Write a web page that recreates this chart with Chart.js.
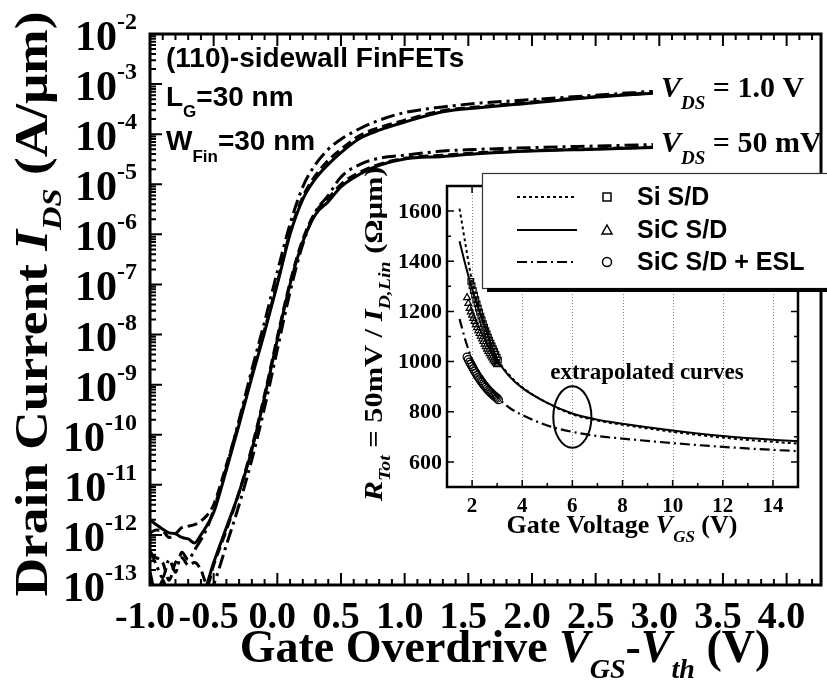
<!DOCTYPE html>
<html>
<head>
<meta charset="utf-8">
<script src="https://cdn.jsdelivr.net/npm/chart.js@4.4.1/dist/chart.umd.min.js"></script>
<style>
html, body { margin: 0; padding: 0; background: #fff; }
#wrap { position: relative; width: 827px; height: 686px; overflow: hidden; }
#main { position: absolute; left: 0; top: 0; }
#inset { position: absolute; left: 355px; top: 165px; }
</style>
</head>
<body>
<div id="wrap">
  <canvas id="main" width="827" height="686"></canvas>
  <canvas id="inset" width="472" height="390"></canvas>
</div>
<script>
// ---- main chart: Id-Vov data ----
const VOV = [-1.0, -0.95, -0.9, -0.85, -0.8, -0.75, -0.7, -0.65, -0.6, -0.55, -0.5, -0.4, -0.3, -0.2, -0.1,
             0.0, 0.1, 0.2, 0.3, 0.4, 0.5, 0.65, 0.8, 1.0, 1.3, 1.6, 2.0, 2.5, 2.95];

// VDS = 1.0 V
const ID_SI_1V   = [1.1e-12, 1.25e-12, 1.2e-12, 8.9e-13, 1.05e-12, 1.4e-12, 1.5e-12, 1.6e-12, 1.9e-12, 2.5e-12, 4.0e-12,
                    2.5e-11, 1.8e-10, 1.6e-9, 1.25e-8, 1.1e-7, 1.1e-6, 5.6e-6, 1.5e-5, 3.0e-5, 5.0e-5, 9.5e-5, 1.35e-4,
                    1.9e-4, 2.95e-4, 3.55e-4, 4.4e-4, 5.6e-4, 6.8e-4];
const ID_SIC_1V  = [2.0e-12, 1.6e-12, 1.3e-12, 1.1e-12, 1.05e-12, 8.9e-13, 8.3e-13, 6.9e-13, 1.0e-12, 1.6e-12, 2.8e-12,
                    2.0e-11, 1.6e-10, 1.4e-9, 1.1e-8, 1.0e-7, 1.0e-6, 5.0e-6, 1.3e-5, 2.5e-5, 4.3e-5, 8.3e-5, 1.2e-4,
                    1.74e-4, 2.8e-4, 3.4e-4, 4.2e-4, 5.5e-4, 6.6e-4];
const ID_ESL_1V  = [5.0e-13, 2.5e-13, 1.4e-13, 3.2e-13, 1.8e-13, 4.5e-13, 3.2e-13, 5.0e-13, 8.0e-13, 1.4e-12, 3.2e-12,
                    2.2e-11, 2.0e-10, 2.0e-9, 1.8e-8, 1.8e-7, 1.6e-6, 8.9e-6, 2.5e-5, 5.0e-5, 7.9e-5, 1.3e-4, 1.9e-4,
                    2.7e-4, 3.5e-4, 4.2e-4, 4.9e-4, 6.0e-4, 7.2e-4];
// VDS = 50 mV
const ID_SI_50   = [4.0e-13, 3.5e-13, 2.8e-13, 1.25e-13, 2.8e-13, 3.5e-13, 2.5e-13, 2.8e-13, 2.0e-13, 1.0e-13, 2.5e-13,
                    1.25e-12, 7.1e-12, 5.6e-11, 6.3e-10, 8.9e-9, 1.1e-7, 7.9e-7, 2.8e-6, 5.2e-6, 1.0e-5, 1.75e-5, 2.5e-5,
                    3.3e-5, 3.8e-5, 4.3e-5, 4.7e-5, 5.1e-5, 5.5e-5];
const ID_SIC_50  = [1.8e-13, 6.3e-14, 1.25e-13, 5.0e-14, 8.0e-14, 4.0e-14, 3.2e-14, 4.0e-14, 5.0e-14, 1.1e-13, 2.8e-13,
                    1.4e-12, 7.1e-12, 5.0e-11, 5.6e-10, 7.9e-9, 1.0e-7, 7.1e-7, 2.5e-6, 4.5e-6, 8.9e-6, 1.6e-5, 2.4e-5,
                    3.2e-5, 3.6e-5, 4.1e-5, 4.6e-5, 5.0e-5, 5.4e-5];
const ID_ESL_50  = [6.3e-14, 8.9e-14, 4.0e-14, 1.0e-13, 5.0e-14, 2.5e-14, 4.0e-14, 2.5e-14, 3.2e-14, 5.0e-14, 1.0e-13,
                    6.3e-13, 4.0e-12, 3.2e-11, 3.5e-10, 5.0e-9, 7.1e-8, 6.3e-7, 2.8e-6, 6.0e-6, 1.4e-5, 2.5e-5, 3.3e-5,
                    3.8e-5, 4.6e-5, 5.0e-5, 5.4e-5, 5.8e-5, 6.2e-5];

const MAIN_X_TICKS = [-1.0, -0.5, 0.0, 0.5, 1.0, 1.5, 2.0, 2.5, 3.0, 3.5, 4.0];
const MAIN_Y_EXP = [-2, -3, -4, -5, -6, -7, -8, -9, -10, -11, -12, -13];

// ---- inset: Rtot vs VGS ----
const VG = [1.5, 1.75, 2, 2.5, 3, 3.5, 4, 5, 6, 7, 8, 10, 12, 14, 15];
const R_SI_FIT  = [1610, 1460, 1320, 1150, 1015, 945, 898, 835, 790, 765, 748, 720, 697, 680, 673];
const R_SIC_FIT = [1480, 1380, 1290, 1140, 1010, 940, 895, 835, 793, 768, 752, 725, 703, 688, 683];
const R_ESL_FIT = [1170, 1080, 1010, 925, 860, 815, 787, 745, 720, 703, 693, 675, 660, 648, 643];

const VG_SI_MEAS  = [1.95, 2.0, 2.05, 2.1, 2.15, 2.2, 2.25, 2.3, 2.35, 2.4, 2.45, 2.5, 2.55, 2.6, 2.65, 2.7,
                     2.75, 2.8, 2.85, 2.9, 2.95, 3.0, 3.05];
const R_SI_MEAS   = [1320, 1302, 1283, 1265, 1247, 1230, 1213, 1197, 1181, 1166, 1151, 1137, 1123, 1110, 1097, 1085,
                     1073, 1062, 1051, 1040, 1029, 1018, 1006];
const VG_SIC_MEAS = [1.8, 1.85, 1.9, 1.95, 2.0, 2.05, 2.1, 2.15, 2.2, 2.25, 2.3, 2.35, 2.4, 2.45, 2.5, 2.55,
                     2.6, 2.65, 2.7, 2.75, 2.8, 2.85, 2.9, 2.95, 3.0];
const R_SIC_MEAS  = [1255, 1232, 1212, 1198, 1185, 1172, 1160, 1147, 1135, 1123, 1112, 1101, 1090, 1080, 1070, 1060,
                     1050, 1041, 1032, 1023, 1015, 1007, 1000, 994, 988];
const VG_ESL_MEAS = [1.8, 1.85, 1.9, 1.95, 2.0, 2.05, 2.1, 2.15, 2.2, 2.25, 2.3, 2.35, 2.4, 2.45, 2.5, 2.55,
                     2.6, 2.65, 2.7, 2.75, 2.8, 2.85, 2.9, 2.95, 3.0, 3.05];
const R_ESL_MEAS  = [1018, 1008, 998, 989, 980, 971, 962, 954, 946, 938, 931, 924, 917, 910, 904, 898,
                     892, 886, 881, 876, 871, 866, 862, 858, 854, 848];

const INSET_X_TICKS = [2, 4, 6, 8, 10, 12, 14];
const INSET_Y_TICKS = [600, 800, 1000, 1200, 1400, 1600];
const LEGEND_LABELS = ['Si S/D', 'SiC S/D', 'SiC S/D + ESL'];

const SERIF = "'Liberation Serif', 'Times New Roman', serif";
const SANS = "'Liberation Sans', Arial, sans-serif";

const pts = (xs, ys) => xs.map((x, i) => ({ x: x, y: ys[i] }));

// 色々な書式のテキストを並べて描く
function drawParts(ctx, parts, x, y, align) {
    let w = 0;
    parts.forEach(p => { ctx.font = p.f; w += ctx.measureText(p.t).width; });
    let cx = align === 'center' ? x - w / 2 : (align === 'right' ? x - w : x);
    ctx.textAlign = 'left';
    ctx.textBaseline = 'alphabetic';
    parts.forEach(p => {
        ctx.font = p.f;
        ctx.fillText(p.t, cx, y + (p.dy || 0));
        cx += ctx.measureText(p.t).width;
    });
}

// ---- main chart decorations ----
const mainDecor = {
    id: 'mainDecor',
    afterDraw(chart) {
        const ctx = chart.ctx, a = chart.chartArea;
        const xs = chart.scales.x, ys = chart.scales.y;
        ctx.save();
        ctx.strokeStyle = '#000';
        ctx.fillStyle = '#000';

        // ticks (inside)
        ctx.lineWidth = 2;
        ctx.beginPath();
        for (let i = -10; i <= 42; i++) {
            const px = xs.getPixelForValue(i / 10);
            const len = i % 5 === 0 ? 12 : 6;
            ctx.moveTo(px, a.bottom); ctx.lineTo(px, a.bottom - len);
            ctx.moveTo(px, a.top); ctx.lineTo(px, a.top + len);
        }
        for (let e = -13; e <= -3; e++) {
            for (let m = 1; m <= 9; m++) {
                const py = ys.getPixelForValue(m * Math.pow(10, e));
                const len = m === 1 ? 12 : 6;
                ctx.moveTo(a.left, py); ctx.lineTo(a.left + len, py);
            }
        }
        ctx.stroke();

        ctx.lineWidth = 3;
        ctx.strokeRect(a.left, a.top, a.right - a.left, a.bottom - a.top);

        // y tick labels 10^n
        ctx.textBaseline = 'alphabetic';
        ctx.textAlign = 'left';
        MAIN_Y_EXP.forEach(e => {
            const py = ys.getPixelForValue(Math.pow(10, e));
            ctx.font = `bold 24px ${SERIF}`;
            const sup = String(e);
            const ws = ctx.measureText(sup).width;
            ctx.fillText(sup, 137 - ws, py - 5);
            ctx.font = `bold 42px ${SERIF}`;
            const wt = ctx.measureText('10').width;
            ctx.fillText('10', 137 - ws - wt, py + 16);
        });

        // x tick labels
        ctx.font = `bold 38px ${SERIF}`;
        ctx.textAlign = 'center';
        MAIN_X_TICKS.forEach(v => ctx.fillText(v.toFixed(1), xs.getPixelForValue(v) - 5, 628));

        // axis titles
        const B46 = `bold 46px ${SERIF}`, I46 = `italic bold 46px ${SERIF}`, I28 = `italic bold 28px ${SERIF}`;
        drawParts(ctx, [
            { t: 'Gate Overdrive ', f: B46 }, { t: 'V', f: I46 }, { t: 'GS', f: I28, dy: 16 },
            { t: '-', f: B46 }, { t: 'V', f: I46 }, { t: 'th', f: I28, dy: 16 }, { t: ' (V)', f: B46 }
        ], 505, 662, 'center');

        ctx.save();
        ctx.translate(47, 304);
        ctx.rotate(-Math.PI / 2);
        ctx.scale(1.16, 1);
        drawParts(ctx, [
            { t: 'Drain Current ', f: B46 }, { t: 'I', f: I46 }, { t: 'DS', f: I28, dy: 14 }, { t: ' (A/μm)', f: B46 }
        ], 0, 0, 'center');
        ctx.restore();

        // annotations
        const S28 = `bold 28px ${SANS}`, S17 = `bold 17px ${SANS}`;
        drawParts(ctx, [{ t: '(110)-sidewall FinFETs', f: S28 }], 166, 67, 'left');
        drawParts(ctx, [{ t: 'L', f: S28 }, { t: 'G', f: S17, dy: 11 }, { t: '=30 nm', f: S28 }], 166, 106, 'left');
        drawParts(ctx, [{ t: 'W', f: S28 }, { t: 'Fin', f: S17, dy: 12 }, { t: '=30 nm', f: S28 }], 166, 150, 'left');

        const B30 = `bold 30px ${SERIF}`, I30 = `italic bold 30px ${SERIF}`, I19 = `italic bold 19px ${SERIF}`;
        drawParts(ctx, [{ t: 'V', f: I30 }, { t: 'DS', f: I19, dy: 12 }, { t: ' = 1.0 V', f: B30 }], 661, 97, 'left');
        drawParts(ctx, [{ t: 'V', f: I30 }, { t: 'DS', f: I19, dy: 12 }, { t: ' = 50 mV', f: B30 }], 661, 152, 'left');
        ctx.restore();
    }
};

const lineStyle = (dash) => ({
    borderColor: '#000', borderWidth: 3, borderDash: dash, pointRadius: 0,
    cubicInterpolationMode: 'monotone', fill: false, clip: 1
});

new Chart(document.getElementById('main'), {
    type: 'line',
    data: {
        datasets: [
            { data: pts(VOV, ID_SI_1V), ...lineStyle([10, 5]) },
            { data: pts(VOV, ID_SIC_1V), ...lineStyle([]) },
            { data: pts(VOV, ID_ESL_1V), ...lineStyle([14, 5, 3, 5]) },
            { data: pts(VOV, ID_SI_50), ...lineStyle([10, 5]) },
            { data: pts(VOV, ID_SIC_50), ...lineStyle([]) },
            { data: pts(VOV, ID_ESL_50), ...lineStyle([14, 5, 3, 5]) }
        ]
    },
    options: {
        responsive: false,
        animation: false,
        devicePixelRatio: 1,
        events: [],
        layout: { padding: { left: 0, right: 6, top: 34, bottom: 0 } },
        plugins: { legend: { display: false }, tooltip: { enabled: false } },
        scales: {
            x: {
                type: 'linear', min: -1.0, max: 4.27,
                ticks: { display: false }, grid: { display: false }, border: { display: false },
                afterFit: s => { s.height = 101; }
            },
            y: {
                type: 'logarithmic', min: 1e-13, max: 1e-2,
                ticks: { display: false }, grid: { display: false }, border: { display: false },
                afterFit: s => { s.width = 150; }
            }
        }
    },
    plugins: [mainDecor]
});

// ---- inset ----
const OX = 355, OY = 165;   // inset canvas offset
const ELLIPSE_X = 6, ELLIPSE_R = 779, ELLIPSE_DX = 0.76, ELLIPSE_DR = 123;

const insetDecor = {
    id: 'insetDecor',
    beforeDatasetsDraw(chart) {
        const ctx = chart.ctx, a = chart.chartArea, xs = chart.scales.x;
        ctx.save();
        ctx.strokeStyle = '#666';
        ctx.lineWidth = 0.8;
        ctx.setLineDash([1, 2]);
        ctx.beginPath();
        INSET_X_TICKS.forEach(v => {
            const px = Math.round(xs.getPixelForValue(v)) + 0.5;
            ctx.moveTo(px, a.bottom); ctx.lineTo(px, a.top);
        });
        ctx.stroke();
        ctx.restore();
    },
    afterDraw(chart) {
        const ctx = chart.ctx, a = chart.chartArea;
        const xs = chart.scales.x, ys = chart.scales.y;
        ctx.save();
        ctx.strokeStyle = '#000';
        ctx.fillStyle = '#000';

        // ticks
        ctx.lineWidth = 1.5;
        ctx.beginPath();
        for (let v = 600; v <= 1700; v += 100) {
            const py = ys.getPixelForValue(v);
            const len = v % 200 === 0 ? 7 : 4;
            ctx.moveTo(a.left, py); ctx.lineTo(a.left + len, py);
            ctx.moveTo(a.right, py); ctx.lineTo(a.right - len, py);
        }
        for (let v = 1; v <= 15; v++) {
            const px = xs.getPixelForValue(v);
            const len = v % 2 === 0 ? 7 : 4;
            ctx.moveTo(px, a.bottom); ctx.lineTo(px, a.bottom - len);
            ctx.moveTo(px, a.top); ctx.lineTo(px, a.top + len);
        }
        ctx.stroke();
        ctx.lineWidth = 2.5;
        ctx.strokeRect(a.left, a.top, a.right - a.left, a.bottom - a.top);

        // tick labels
        ctx.font = `bold 22px ${SERIF}`;
        ctx.textAlign = 'right';
        ctx.textBaseline = 'middle';
        INSET_Y_TICKS.forEach(v => ctx.fillText(String(v), 442 - OX, ys.getPixelForValue(v) + 1));
        ctx.textAlign = 'center';
        ctx.textBaseline = 'alphabetic';
        ctx.font = `bold 21px ${SERIF}`;
        INSET_X_TICKS.forEach(v => ctx.fillText(String(v), xs.getPixelForValue(v), 512 - OY));

        // titles
        const B26 = `bold 26px ${SERIF}`, I26 = `italic bold 26px ${SERIF}`, I17 = `italic bold 17px ${SERIF}`;
        drawParts(ctx, [{ t: 'Gate Voltage ', f: B26 }, { t: 'V', f: I26 }, { t: 'GS', f: I17, dy: 9 }, { t: ' (V)', f: B26 }],
            622 - OX, 533 - OY, 'center');

        ctx.save();
        ctx.translate(382 - OX, 334 - OY);
        ctx.rotate(-Math.PI / 2);
        ctx.scale(1.17, 1);
        drawParts(ctx, [
            { t: 'R', f: I26 }, { t: 'Tot', f: I17, dy: 8 }, { t: ' = 50mV / ', f: B26 },
            { t: 'I', f: I26 }, { t: 'D,Lin', f: I17, dy: 8 }, { t: ' (Ωμm)', f: B26 }
        ], 0, 0, 'center');
        ctx.restore();

        // extrapolated curves + ellipse
        ctx.font = `bold 23px ${SERIF}`;
        ctx.textAlign = 'center';
        ctx.fillText('extrapolated curves', 647 - OX, 379 - OY);
        const cx = xs.getPixelForValue(ELLIPSE_X), cy = ys.getPixelForValue(ELLIPSE_R);
        const rx = Math.abs(xs.getPixelForValue(ELLIPSE_X + ELLIPSE_DX) - cx);
        const ry = Math.abs(ys.getPixelForValue(ELLIPSE_R + ELLIPSE_DR) - cy);
        ctx.lineWidth = 2;
        ctx.beginPath();
        ctx.ellipse(cx, cy, rx, ry, 0, 0, Math.PI * 2);
        ctx.stroke();

        // legend box
        const bx = 482 - OX, by = 173 - OY, bw = chart.width - bx + 5, bh = 115;
        ctx.fillStyle = '#fff';
        ctx.fillRect(bx, by, bw, bh);
        ctx.strokeStyle = '#333';
        ctx.lineWidth = 1.2;
        ctx.strokeRect(bx + 0.5, by + 0.5, bw, bh);
        ctx.fillStyle = '#000';
        ctx.fillRect(bx + 5, by + bh, bw, 4);

        const rows = [197, 230, 262];
        const ds = chart.data.datasets;
        rows.forEach((ry0, i) => {
            const y = ry0 - OY;
            const line = ds[i], mk = ds[i + 3];
            ctx.strokeStyle = '#000';
            ctx.lineWidth = line.borderWidth;
            ctx.setLineDash(line.borderDash);
            ctx.beginPath();
            ctx.moveTo(517 - OX, y); ctx.lineTo(577 - OX, y);
            ctx.stroke();
            ctx.setLineDash([]);
            ctx.lineWidth = 1.5;
            const mx = 607 - OX;
            ctx.beginPath();
            if (mk.pointStyle === 'rect') ctx.rect(mx - 4, y - 4, 8, 8);
            else if (mk.pointStyle === 'triangle') { ctx.moveTo(mx, y - 5); ctx.lineTo(mx + 5, y + 4); ctx.lineTo(mx - 5, y + 4); ctx.closePath(); }
            else ctx.arc(mx, y, 4.5, 0, Math.PI * 2);
            ctx.stroke();
            ctx.font = `bold 25px ${SANS}`;
            ctx.textAlign = 'left';
            ctx.textBaseline = 'middle';
            ctx.fillStyle = '#000';
            ctx.fillText(LEGEND_LABELS[i], 637 - OX, y + 1);
        });
        ctx.restore();
    }
};

const fitLine = (dash, w) => ({
    type: 'line', borderColor: '#000', borderWidth: w, borderDash: dash, pointRadius: 0,
    cubicInterpolationMode: 'monotone', fill: false
});
const meas = (style) => ({
    type: 'scatter', showLine: false, pointStyle: style, pointRadius: 4, pointBorderWidth: 1.2,
    pointBorderColor: '#000', pointBackgroundColor: 'rgba(0,0,0,0)'
});

new Chart(document.getElementById('inset'), {
    type: 'line',
    data: {
        datasets: [
            { data: pts(VG, R_SI_FIT), ...fitLine([3, 3], 2) },
            { data: pts(VG, R_SIC_FIT), ...fitLine([], 2) },
            { data: pts(VG, R_ESL_FIT), ...fitLine([10, 4, 2, 4], 2.2) },
            { data: pts(VG_SI_MEAS, R_SI_MEAS), ...meas('rect') },
            { data: pts(VG_SIC_MEAS, R_SIC_MEAS), ...meas('triangle') },
            { data: pts(VG_ESL_MEAS, R_ESL_MEAS), ...meas('circle') }
        ]
    },
    options: {
        responsive: false,
        animation: false,
        devicePixelRatio: 1,
        events: [],
        layout: { padding: { left: 0, right: 29, top: 21, bottom: 0 } },
        plugins: { legend: { display: false }, tooltip: { enabled: false } },
        scales: {
            x: {
                type: 'linear', min: 1, max: 15,
                ticks: { display: false }, grid: { display: false }, border: { display: false },
                afterFit: s => { s.height = 68; }
            },
            y: {
                type: 'linear', min: 500, max: 1700,
                ticks: { display: false }, grid: { display: false }, border: { display: false },
                afterFit: s => { s.width = 92; }
            }
        }
    },
    plugins: [insetDecor]
});
</script>
</body>
</html>
